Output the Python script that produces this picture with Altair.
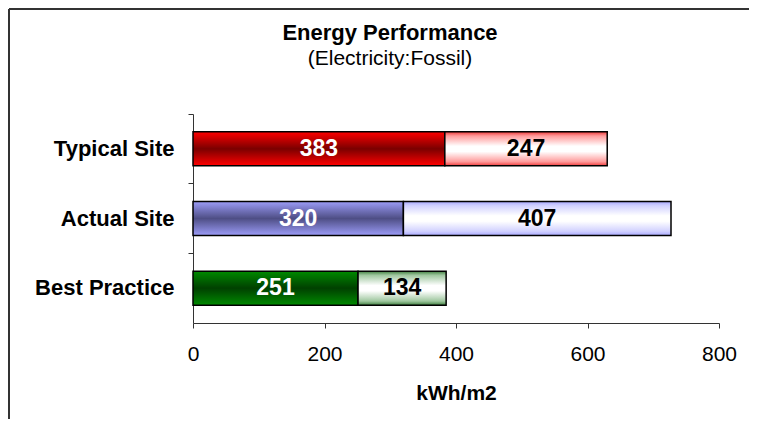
import altair as alt
import pandas as pd

categories = ["Typical Site", "Actual Site", "Best Practice"]
electricity = [383, 320, 251]
fossil = [247, 407, 134]
x_ticks = [0, 200, 400, 600, 800]

rows = []
for c, e, f in zip(categories, electricity, fossil):
    rows.append({"site": c, "type": "Electricity", "start": 0, "end": e, "value": e})
    rows.append({"site": c, "type": "Fossil", "start": e, "end": e + f, "value": f})
df = pd.DataFrame(rows)

FONT = "Liberation Sans"


def grad(stops):
    return {"gradient": "linear", "x1": 0, "y1": 0, "x2": 0, "y2": 1,
            "stops": [{"offset": o, "color": c} for o, c in stops]}


def dark_grad(edge, mid):
    return grad([(0, edge), (0.5, mid), (1, edge)])


def light_grad(edge, soft):
    return grad([(0, edge), (0.12, soft), (0.42, "#ffffff"), (0.58, "#ffffff"),
                 (0.88, soft), (1, edge)])


fills = {
    ("Typical Site", "Electricity"): dark_grad("#ff0000", "#7a0000"),
    ("Typical Site", "Fossil"): light_grad("#ee3a3a", "#ff9a9a"),
    ("Actual Site", "Electricity"): dark_grad("#9c9cf8", "#4e4e85"),
    ("Actual Site", "Fossil"): light_grad("#a8a8ff", "#d0d0ff"),
    ("Best Practice", "Electricity"): dark_grad("#008a00", "#004000"),
    ("Best Practice", "Fossil"): light_grad("#3f7f3f", "#9fc79f"),
}

y_enc = alt.Y(
    "site:N", sort=categories, title=None,
    scale=alt.Scale(paddingInner=0, paddingOuter=0),
    axis=alt.Axis(bandPosition=0, grid=False, tickSize=5, tickColor="#333",
                  domainColor="#333", labelFont=FONT, labelFontSize=22,
                  labelFontWeight="bold", labelColor="black", labelPadding=14),
)
x_enc = alt.X(
    "start:Q", title="kWh/m2",
    scale=alt.Scale(domain=[0, 800], nice=False),
    axis=alt.Axis(values=x_ticks, grid=False, tickSize=5, tickColor="#333",
                  domainColor="#333", labelFont=FONT, labelFontSize=21,
                  labelFlush=False, labelColor="black", labelPadding=15,
                  titleFont=FONT, titleFontSize=21, titleFontWeight="bold",
                  titleColor="black", titlePadding=18),
)

layers = []
for (site, typ), fill in fills.items():
    layers.append(
        alt.Chart(df)
        .transform_filter(f"datum.site == '{site}' && datum.type == '{typ}'")
        .mark_bar(height={"band": 0.488}, fill=fill, stroke="black", strokeWidth=1.5)
        .encode(x=x_enc, x2="end:Q", y=y_enc)
    )

text = (
    alt.Chart(df)
    .transform_calculate(mid="(datum.start + datum.end) / 2")
    .mark_text(font=FONT, fontSize=23, fontWeight="bold")
    .encode(
        x="mid:Q",
        y=alt.Y("site:N", sort=categories),
        text="value:Q",
        color=alt.condition("datum.type == 'Electricity'", alt.value("white"), alt.value("black")),
    )
)

frame_df = pd.DataFrame({"k": [0]})
top_rule = alt.Chart(frame_df).mark_rule(color="#333", strokeWidth=2).encode(
    x=alt.value(-184), x2=alt.value(556), y=alt.value(-105))
left_rule = alt.Chart(frame_df).mark_rule(color="#333", strokeWidth=2).encode(
    x=alt.value(-184), y=alt.value(-105), y2=alt.value(305))

chart = (
    alt.layer(*layers, text, top_rule, left_rule)
    .properties(
        width=526, height=209,
        background="white",
        padding={"left": 0, "top": 0, "right": 0, "bottom": 0},
        title=alt.TitleParams(
            text="Energy Performance", subtitle="(Electricity:Fossil)",
            font=FONT, fontSize=22, fontWeight="bold", color="black",
            subtitleFont=FONT, subtitleFontSize=21, subtitleColor="black",
            anchor="middle", dx=-66, offset=-62, subtitlePadding=3,
        ),
    )
    .configure_view(stroke=None)
)

chart.save("out.html", embed_options={"renderer": "svg", "actions": False})
